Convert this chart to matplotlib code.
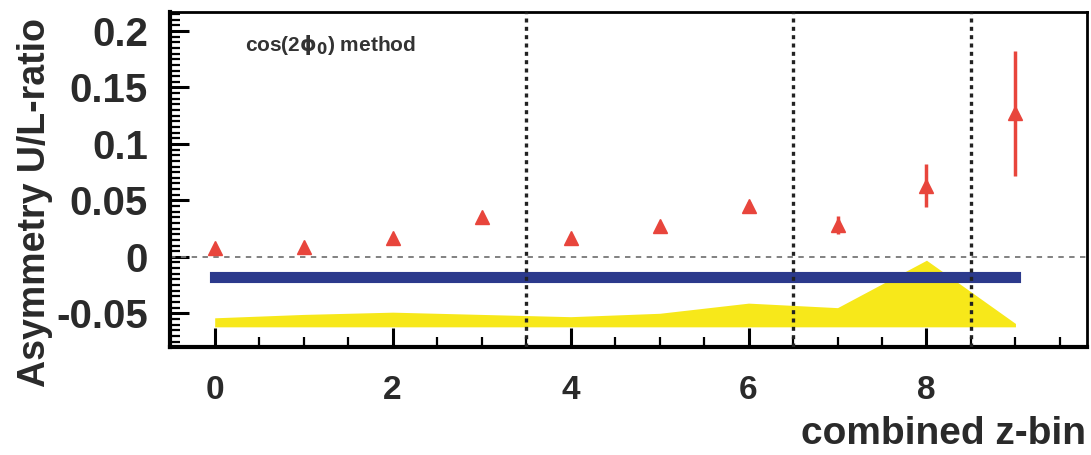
import matplotlib.pyplot as plt
from matplotlib.ticker import MultipleLocator

plt.rcParams['font.family'] = ['Liberation Sans', 'DejaVu Sans']
plt.rcParams['font.weight'] = 'bold'

# measured asymmetry per combined z-bin
z_bins = [0, 1, 2, 3, 4, 5, 6, 7, 8, 9]
asym = [0.008, 0.009, 0.017, 0.035, 0.017, 0.027, 0.045, 0.028, 0.063, 0.127]
asym_err = [0.002, 0.002, 0.002, 0.003, 0.002, 0.003, 0.004, 0.008, 0.019, 0.055]

# expected value (blue band)
expected = -0.018

# systematic band (yellow), drawn on a fixed baseline
sys_x = [0, 1, 2, 3, 4, 5, 6, 7, 8, 9]
sys_top = [-0.054, -0.051, -0.049, -0.051, -0.053, -0.050, -0.041, -0.045, -0.003, -0.059]
sys_base = -0.062

group_edges = [3.5, 6.5, 8.5]

fig = plt.figure(figsize=(10.91, 4.55), dpi=100)
ax = fig.add_axes([0.156, 0.237, 0.840, 0.737])

ax.fill_between(sys_x, sys_base, sys_top, color='#f7e81a', lw=0, zorder=1)
ax.plot([z_bins[0], z_bins[-1]], [expected, expected], color='#2c3a8c', lw=8,
        solid_capstyle='projecting', zorder=2)
ax.axhline(0, color='#777777', lw=1.3, ls=(0, (3, 3)), zorder=2)
for xe in group_edges:
    ax.axvline(xe, color='#222222', lw=2.4, ls=(0, (1.2, 1.3)), zorder=3)

ax.errorbar(z_bins, asym, yerr=asym_err, fmt='^', color='#e8453c', ms=10,
            mec='#e8453c', elinewidth=2.5, capsize=0, zorder=4)

ax.text(0.34, 0.1875, r'cos(2$\mathbf{\phi_0}$) method', fontsize=15, fontweight='bold',
        color='#333333', va='center')

ax.set_xlim(-0.5, 9.8)
ax.set_ylim(-0.08, 0.217)
ax.xaxis.set_major_locator(MultipleLocator(2))
ax.xaxis.set_minor_locator(MultipleLocator(0.5))
ax.yaxis.set_minor_locator(MultipleLocator(0.005))
ax.set_yticks([-0.05, 0, 0.05, 0.1, 0.15, 0.2])
ax.set_yticklabels(['-0.05', '0', '0.05', '0.1', '0.15', '0.2'])

ax.tick_params(axis='both', which='major', direction='in', length=14, width=2.2,
               top=False, right=False)
ax.tick_params(axis='both', which='minor', direction='in', length=7, width=1.6,
               top=False, right=False)
ax.tick_params(axis='x', labelsize=24, pad=20)
ax.tick_params(axis='y', labelsize=29, pad=16)
for lab in ax.get_xticklabels() + ax.get_yticklabels():
    lab.set_fontweight('bold')
    lab.set_color('#2a2a2a')

for side in ['left', 'bottom']:
    ax.spines[side].set_linewidth(3)
for side in ['top', 'right']:
    ax.spines[side].set_linewidth(2)

fig.text(0.032, 0.554, 'Asymmetry U/L-ratio', fontsize=27, fontweight='bold', color='#2a2a2a',
         rotation=90, ha='center', va='center')
fig.text(0.995, 0.025, 'combined z-bin', fontsize=28, fontweight='bold', color='#2a2a2a',
         ha='right', va='baseline')

fig.savefig('out.png', dpi=100)
